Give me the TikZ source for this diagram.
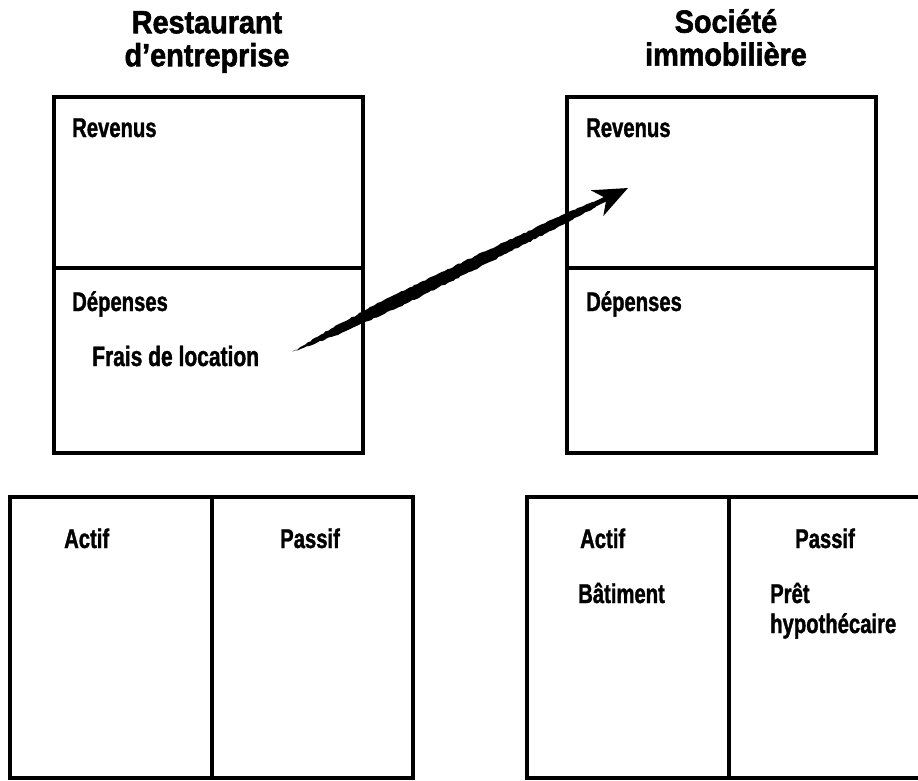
\documentclass[tikz,border=0pt]{standalone}
\usepackage{fontspec}
\setmainfont{Liberation Sans}[FakeStretch=0.75, BoldFeatures={FakeBold=1.3}]
\newfontfamily\titlefont{Liberation Sans}[FakeStretch=0.9, BoldFeatures={FakeBold=1.8}]
\usetikzlibrary{arrows.meta, positioning, calc, decorations.pathmorphing}

\begin{document}
\begin{tikzpicture}[x=1pt, y=-1pt,
    box/.style={draw, rectangle, line width=3.5pt, inner sep=0pt, outer sep=0pt},
    lbl/.style={anchor=base west, inner sep=0pt, font=\bfseries\fontsize{27}{29}\selectfont},
    ttl/.style={anchor=north, align=center, inner sep=0pt, font=\titlefont\bfseries\fontsize{32}{33}\selectfont}]
            \useasboundingbox (0,0) rectangle (918,780);

            % titles
            \node (ttlresto) [ttl] at (207,11) {Restaurant\\d’entreprise};
            \node (ttlimmo) [ttl] at (726,9) {Société\\immobilière};

            % income statements
            \node (rrev) [box, anchor=north west, minimum width=309pt, minimum height=171pt] at (54,97) {};
            \node (rdep) [box, below=0pt of rrev, minimum width=309pt, minimum height=185pt] {};

            \node (srev) [box, anchor=north west, minimum width=309pt, minimum height=171pt] at (567,97) {};
            \node (sdep) [box, below=0pt of srev, minimum width=309pt, minimum height=185pt] {};

            % balance sheets
            \node (ract) [box, anchor=north west, minimum width=202pt, minimum height=281pt] at (10,497) {};
            \node (rpas) [box, right=0pt of ract, minimum width=201pt, minimum height=281pt] {};

            \node (sact) [box, anchor=north west, minimum width=202pt, minimum height=281pt] at (527,497) {};
            \node (spas) [box, right=0pt of sact, minimum width=202pt, minimum height=281pt] {};

            % labels
            \node (rrevl) [lbl] at (72,137) {Revenus};
            \node (rdepl) [lbl] at (72,311) {Dépenses};
            \node (frais) [lbl, font=\bfseries\fontsize{28}{30}\selectfont] at (92,366) {Frais de location};

            \node (srevl) [lbl] at (586,137) {Revenus};
            \node (sdepl) [lbl] at (586,311) {Dépenses};

            \node (ractl) [lbl] at (64,548) {Actif};
            \node (rpasl) [lbl] at (280,548) {Passif};

            \node (sactl) [lbl] at (580,548) {Actif};
            \node (spasl) [lbl] at (795,548) {Passif};
            \node (batim) [lbl] at (578,603) {Bâtiment};
            \node (pret) [lbl] at (770,603) {Prêt};
            \node (hypo) [lbl] at (770,633) {hypothécaire};

            % arrow
            \coordinate (tail) at ($(frais.east)+(33,-4)$);
            \coordinate (tip) at ($(srev.north west)+(61,91)$);

            \fill[decorate, decoration={random steps, segment length=3pt, amplitude=0.7pt}]
            (tail)
            -- ($(tail)!0.12!(tip)!4pt!90:(tip)$)
            -- ($(tail)!0.3!(tip)!6.5pt!90:(tip)$)
            -- ($(tail)!0.55!(tip)!6pt!90:(tip)$)
            -- ($(tail)!0.8!(tip)!4.5pt!90:(tip)$)
            -- ($(tail)!0.9!(tip)!3pt!90:(tip)$)
            -- ($(tail)!0.9!(tip)!3pt!-90:(tip)$)
            -- ($(tail)!0.8!(tip)!4.5pt!-90:(tip)$)
            -- ($(tail)!0.55!(tip)!6pt!-90:(tip)$)
            -- ($(tail)!0.3!(tip)!6.5pt!-90:(tip)$)
            -- ($(tail)!0.12!(tip)!4pt!-90:(tip)$)
            -- cycle;

            \draw[line width=5pt, -{Stealth[length=34pt, width=28pt, inset=10pt]}]
            ($(tail)!0.86!(tip)$) -- (tip);

        \end{tikzpicture}
\end{document}
